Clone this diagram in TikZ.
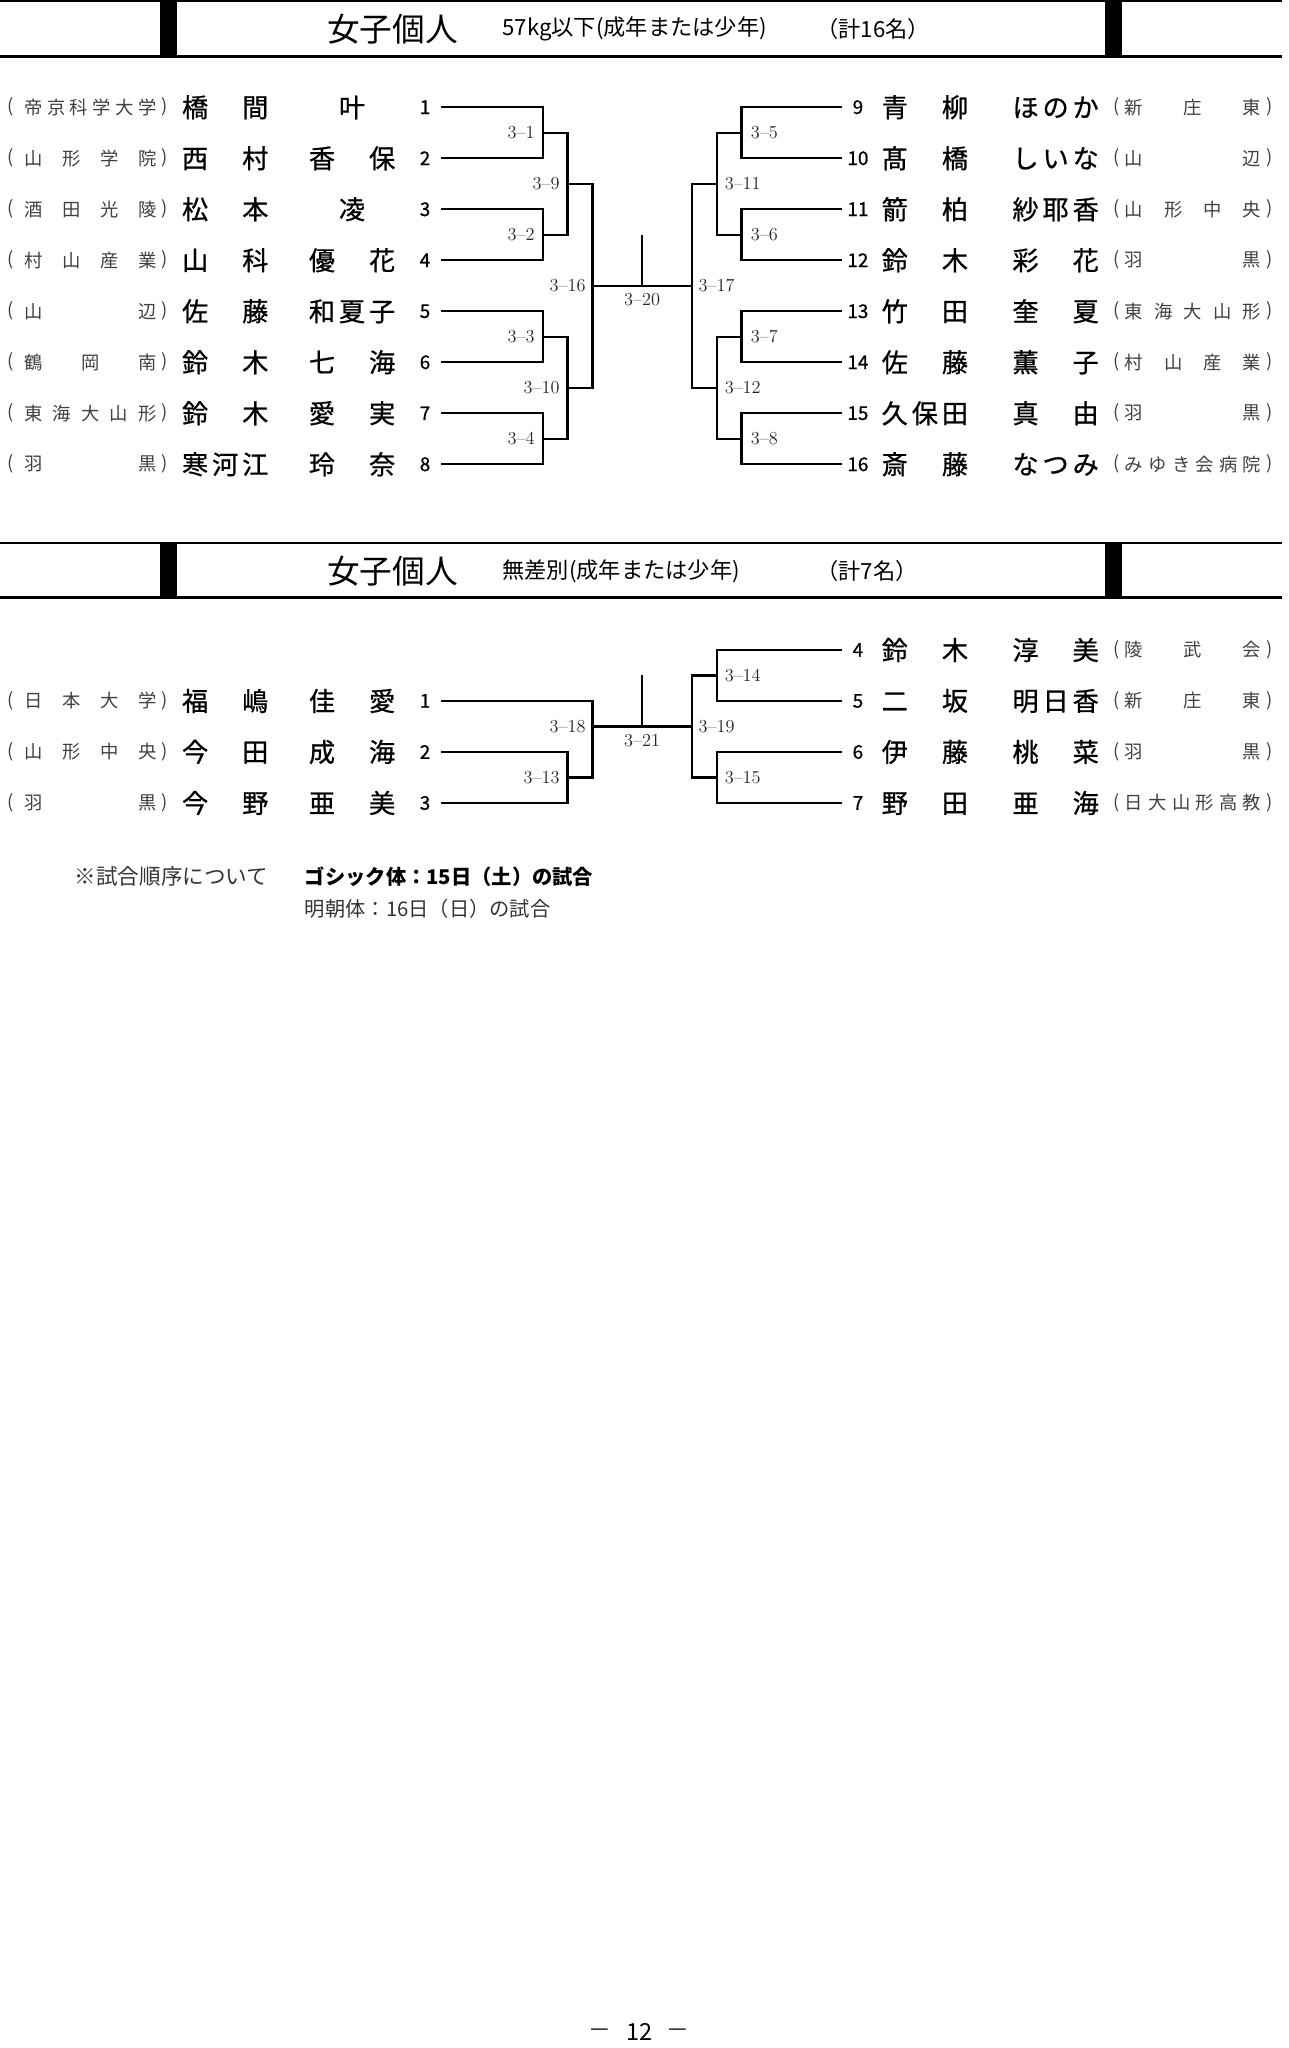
\documentclass[tikz,border=0pt]{standalone}
\usepackage{fontspec}
\newfontfamily\jp{Noto Sans CJK JP}
\newfontfamily\jpm{Noto Sans CJK JP}[FakeBold=0.8]
\tikzset{
  ln/.style={line width=1.8pt, line join=miter},
  sch/.style={font=\jp\fontsize{14}{14}\selectfont, text=black!75, inner sep=0pt},
  par/.style={font=\jp\fontsize{14}{14}\selectfont, text=black!75, inner sep=0pt},
  nm/.style={font=\jpm\fontsize{20}{20}\selectfont, inner sep=0pt},
  num/.style={font=\jpm\fontsize{14.5}{14.5}\selectfont, inner sep=0pt},
  lbl/.style={font=\fontsize{14}{14}\selectfont, text=black!85, inner sep=0pt},
  ttl/.style={font=\jp\fontsize{25}{25}\selectfont, inner sep=0pt, anchor=west},
  sub/.style={font=\jp\fontsize{17}{17}\selectfont, inner sep=0pt, anchor=west},
  foot/.style={font=\jp\fontsize{15.5}{15.5}\selectfont, inner sep=0pt, anchor=west},
}
\newcommand\lsch[3]{%
  \node[par] (#1a) at (8,#2) {(};
  \node[sch,anchor=west] (#1b) at (18.5,#2) {\makebox[101pt]{#3}};
  \node[par] (#1c) at (126,#2) {)};}
\newcommand\rsch[3]{%
  \node[par] (#1a) at (854,#2) {(};
  \node[sch,anchor=west] (#1b) at (860,#2) {\makebox[104pt]{#3}};
  \node[par] (#1c) at (971,#2) {)};}
\newcommand\lname[5]{%
  \node[nm,anchor=west] (#1n) at (139,#2) {\makebox[66pt]{#3}\hspace{31pt}\makebox[66pt]{#4}};
  \node[num] (#1d) at (325,#2) {#5};}
\newcommand\rname[5]{%
  \node[num] (#1d) at (656,#2) {#5};
  \node[nm,anchor=west] (#1n) at (674,#2) {\makebox[66pt]{#3}\hspace{34pt}\makebox[66pt]{#4}};}
\begin{document}
\begin{tikzpicture}[x=1pt,y=-1pt]
\useasboundingbox (0,0) rectangle (985,1566);

% ---------- header 1 ----------
\draw[line width=1.5pt] (0,1) -- (980,1);
\draw[line width=2.3pt] (0,43.5) -- (980,43.5);
\fill (122,0) rectangle (135,43.5);
\fill (845,0) rectangle (858,43.5);
\node[ttl] (t1) at (250,22) {女子個人};
\node[sub] (t1b) at (384,22) {57kg以下(成年または少年)};
\node[sub] (t1c) at (624,22) {（計16名）};

% ---------- entries section 1 ----------
\lsch{s1}{82}{帝\hfill 京\hfill 科\hfill 学\hfill 大\hfill 学}
\lname{e1}{82}{橋\hfill 間}{叶}{1}
\lsch{s2}{121}{山\hfill 形\hfill 学\hfill 院}
\lname{e2}{121}{西\hfill 村}{香\hfill 保}{2}
\lsch{s3}{160}{酒\hfill 田\hfill 光\hfill 陵}
\lname{e3}{160}{松\hfill 本}{凌}{3}
\lsch{s4}{199}{村\hfill 山\hfill 産\hfill 業}
\lname{e4}{199}{山\hfill 科}{優\hfill 花}{4}
\lsch{s5}{238}{山\hfill 辺}
\lname{e5}{238}{佐\hfill 藤}{和\hfill 夏\hfill 子}{5}
\lsch{s6}{277}{鶴\hfill 岡\hfill 南}
\lname{e6}{277}{鈴\hfill 木}{七\hfill 海}{6}
\lsch{s7}{316}{東\hfill 海\hfill 大\hfill 山\hfill 形}
\lname{e7}{316}{鈴\hfill 木}{愛\hfill 実}{7}
\lsch{s8}{355}{羽\hfill 黒}
\lname{e8}{355}{寒\hfill 河\hfill 江}{玲\hfill 奈}{8}

\rname{e9}{82}{青\hfill 柳}{ほ\hfill の\hfill か}{9}
\rsch{s9}{82}{新\hfill 庄\hfill 東}
\rname{e10}{121}{髙\hfill 橋}{し\hfill い\hfill な}{10}
\rsch{s10}{121}{山\hfill 辺}
\rname{e11}{160}{箭\hfill 柏}{紗\hfill 耶\hfill 香}{11}
\rsch{s11}{160}{山\hfill 形\hfill 中\hfill 央}
\rname{e12}{199}{鈴\hfill 木}{彩\hfill 花}{12}
\rsch{s12}{199}{羽\hfill 黒}
\rname{e13}{238}{竹\hfill 田}{奎\hfill 夏}{13}
\rsch{s13}{238}{東\hfill 海\hfill 大\hfill 山\hfill 形}
\rname{e14}{277}{佐\hfill 藤}{薫\hfill 子}{14}
\rsch{s14}{277}{村\hfill 山\hfill 産\hfill 業}
\rname{e15}{316}{久\hfill 保\hfill 田}{真\hfill 由}{15}
\rsch{s15}{316}{羽\hfill 黒}
\rname{e16}{355}{斎\hfill 藤}{な\hfill つ\hfill み}{16}
\rsch{s16}{355}{み\hfill ゆ\hfill き\hfill 会\hfill 病\hfill 院}

% ---------- bracket section 1 ----------
\foreach \i/\y in {1/82,2/121,3/160,4/199,5/238,6/277,7/316,8/355}{
  \coordinate (L\i) at (337,\y);
  \coordinate (R\i) at (644,\y);
}
\coordinate (a1) at (415,101.5); \coordinate (a2) at (415,179.5);
\coordinate (a3) at (415,257.5); \coordinate (a4) at (415,335.5);
\coordinate (a9) at (434,140.5); \coordinate (a10) at (434,296.5);
\coordinate (a16) at (453,218.5);
\coordinate (ctr) at (491,218.5); \coordinate (ctop) at (491,180);
\coordinate (b17) at (529,218.5);
\coordinate (b11) at (548,140.5); \coordinate (b12) at (548,296.5);
\coordinate (b5) at (567,101.5); \coordinate (b6) at (567,179.5);
\coordinate (b7) at (567,257.5); \coordinate (b8) at (567,335.5);

\draw[ln] (L1) -| (a1) |- (L2);
\draw[ln] (L3) -| (a2) |- (L4);
\draw[ln] (L5) -| (a3) |- (L6);
\draw[ln] (L7) -| (a4) |- (L8);
\draw[ln] (a1) -| (a9) |- (a2);
\draw[ln] (a3) -| (a10) |- (a4);
\draw[ln] (a9) -| (a16) |- (a10);
\draw[ln] (a16) -- (b17);
\draw[ln] (ctr) -- (ctop);
\draw[ln] (R1) -| (b5) |- (R2);
\draw[ln] (R3) -| (b6) |- (R4);
\draw[ln] (R5) -| (b7) |- (R6);
\draw[ln] (R7) -| (b8) |- (R8);
\draw[ln] (b5) -| (b11) |- (b6);
\draw[ln] (b7) -| (b12) |- (b8);
\draw[ln] (b11) -| (b17) |- (b12);

\node[lbl,anchor=east] (m1) at (409,101.5) {3–1};
\node[lbl,anchor=east] (m2) at (409,179.5) {3–2};
\node[lbl,anchor=east] (m3) at (409,257.5) {3–3};
\node[lbl,anchor=east] (m4) at (409,335.5) {3–4};
\node[lbl,anchor=east] (m9) at (428,140.5) {3–9};
\node[lbl,anchor=east] (m10) at (428,296.5) {3–10};
\node[lbl,anchor=east] (m16) at (448,218.5) {3–16};
\node[lbl,anchor=north] (m20) at (491,224) {3–20};
\node[lbl,anchor=west] (m17) at (534,218.5) {3–17};
\node[lbl,anchor=west] (m11) at (554,140.5) {3–11};
\node[lbl,anchor=west] (m12) at (554,296.5) {3–12};
\node[lbl,anchor=west] (m5) at (574,101.5) {3–5};
\node[lbl,anchor=west] (m6) at (574,179.5) {3–6};
\node[lbl,anchor=west] (m7) at (574,257.5) {3–7};
\node[lbl,anchor=west] (m8) at (574,335.5) {3–8};

% ---------- header 2 ----------
\draw[line width=1.5pt] (0,415) -- (980,415);
\draw[line width=2.3pt] (0,457) -- (980,457);
\fill (122,415) rectangle (135,457);
\fill (845,415) rectangle (858,457);
\node[ttl] (t2) at (250,437) {女子個人};
\node[sub] (t2b) at (384,437) {無差別(成年または少年)};
\node[sub] (t2c) at (624,437) {（計7名）};

% ---------- entries section 2 ----------
\lsch{u1}{536}{日\hfill 本\hfill 大\hfill 学}
\lname{f1}{536}{福\hfill 嶋}{佳\hfill 愛}{1}
\lsch{u2}{575}{山\hfill 形\hfill 中\hfill 央}
\lname{f2}{575}{今\hfill 田}{成\hfill 海}{2}
\lsch{u3}{614}{羽\hfill 黒}
\lname{f3}{614}{今\hfill 野}{亜\hfill 美}{3}

\rname{f4}{497}{鈴\hfill 木}{淳\hfill 美}{4}
\rsch{u4}{497}{陵\hfill 武\hfill 会}
\rname{f5}{536}{二\hfill 坂}{明\hfill 日\hfill 香}{5}
\rsch{u5}{536}{新\hfill 庄\hfill 東}
\rname{f6}{575}{伊\hfill 藤}{桃\hfill 菜}{6}
\rsch{u6}{575}{羽\hfill 黒}
\rname{f7}{614}{野\hfill 田}{亜\hfill 海}{7}
\rsch{u7}{614}{日\hfill 大\hfill 山\hfill 形\hfill 高\hfill 教}

% ---------- bracket section 2 ----------
\coordinate (P1) at (337,536); \coordinate (P2) at (337,575); \coordinate (P3) at (337,614);
\coordinate (Q4) at (644,497); \coordinate (Q5) at (644,536);
\coordinate (Q6) at (644,575); \coordinate (Q7) at (644,614);
\coordinate (c13) at (434,594.5);
\coordinate (c18) at (453,555.5);
\coordinate (ctr2) at (491,555.5); \coordinate (ctop2) at (491,516);
\coordinate (d19) at (529,555.5);
\coordinate (d14) at (548,516.5); \coordinate (d15) at (548,594.5);

\draw[ln] (P2) -| (c13) |- (P3);
\draw[ln] (P1) -| (c18) |- (c13);
\draw[ln] (c18) -- (d19);
\draw[ln] (ctr2) -- (ctop2);
\draw[ln] (Q4) -| (d14) |- (Q5);
\draw[ln] (Q6) -| (d15) |- (Q7);
\draw[ln] (d14) -| (d19) |- (d15);

\node[lbl,anchor=east] (n13) at (428,594.5) {3–13};
\node[lbl,anchor=east] (n18) at (448,555.5) {3–18};
\node[lbl,anchor=north] (n21) at (491,561) {3–21};
\node[lbl,anchor=west] (n19) at (534,555.5) {3–19};
\node[lbl,anchor=west] (n14) at (554,516.5) {3–14};
\node[lbl,anchor=west] (n15) at (554,594.5) {3–15};

% ---------- footnote ----------
\node[foot,text=black!80,font=\jp\fontsize{16.5}{16.5}\selectfont] (fn1) at (57,670) {※試合順序について};
\node[foot,font=\jp\bfseries\fontsize{15.5}{15.5}\selectfont] (fn2) at (233,670) {ゴシック体：15日（土）の試合};
\node[foot,text=black!80] (fn3) at (233,695) {明朝体：16日（日）の試合};

% ---------- page number ----------
\node[font=\jp\fontsize{16}{16}\selectfont, inner sep=0pt] (pd1) at (458.5,1554) {—};
\node[font=\jp\fontsize{18}{18}\selectfont, inner sep=0pt] (pg) at (489,1554) {12};
\node[font=\jp\fontsize{16}{16}\selectfont, inner sep=0pt] (pd2) at (518.5,1554) {—};
\end{tikzpicture}
\end{document}
